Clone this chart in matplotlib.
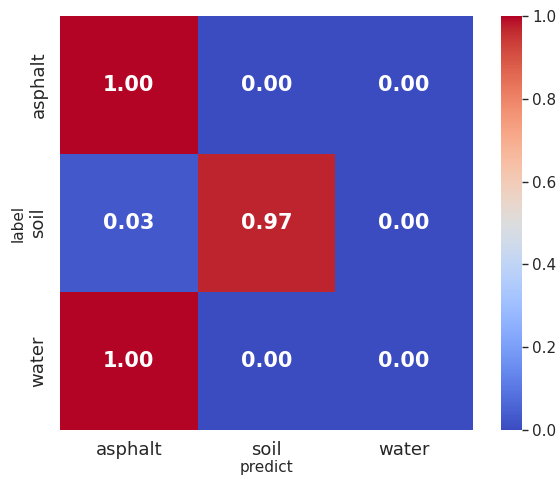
import matplotlib
matplotlib.use("Agg")
import matplotlib.pyplot as plt
import numpy as np
import pandas as pd
import seaborn as sns

classes = ["asphalt", "soil", "water"]
row_asphalt = [1.00, 0.00, 0.00]
row_soil = [0.03, 0.97, 0.00]
row_water = [1.00, 0.00, 0.00]

sns.set_theme(style="white")

cm = pd.DataFrame([row_asphalt, row_soil, row_water], index=classes, columns=classes)

fig = plt.figure(figsize=(5.6, 4.79), dpi=100)
ax = fig.add_axes([0.107, 0.1023, 0.7375, 0.8643])
cax = fig.add_axes([0.8946, 0.1023, 0.0375, 0.8643])

sns.heatmap(cm, ax=ax, cbar_ax=cax, cmap="coolwarm", vmin=0, vmax=1,
            annot=True, fmt=".2f",
            annot_kws={"size": 15, "weight": "bold", "color": "white"})

ax.set_xlabel("predict", fontsize=11, labelpad=1)
ax.set_ylabel("label", fontsize=11, labelpad=3)
ax.tick_params(axis="x", labelsize=13, rotation=0, pad=2)
ax.tick_params(axis="y", labelsize=13, rotation=90, pad=3)
for t in ax.get_yticklabels():
    t.set_va("center")
cax.tick_params(labelsize=11, length=4, width=1, color="#262626")

fig.savefig("out.png", dpi=100)
